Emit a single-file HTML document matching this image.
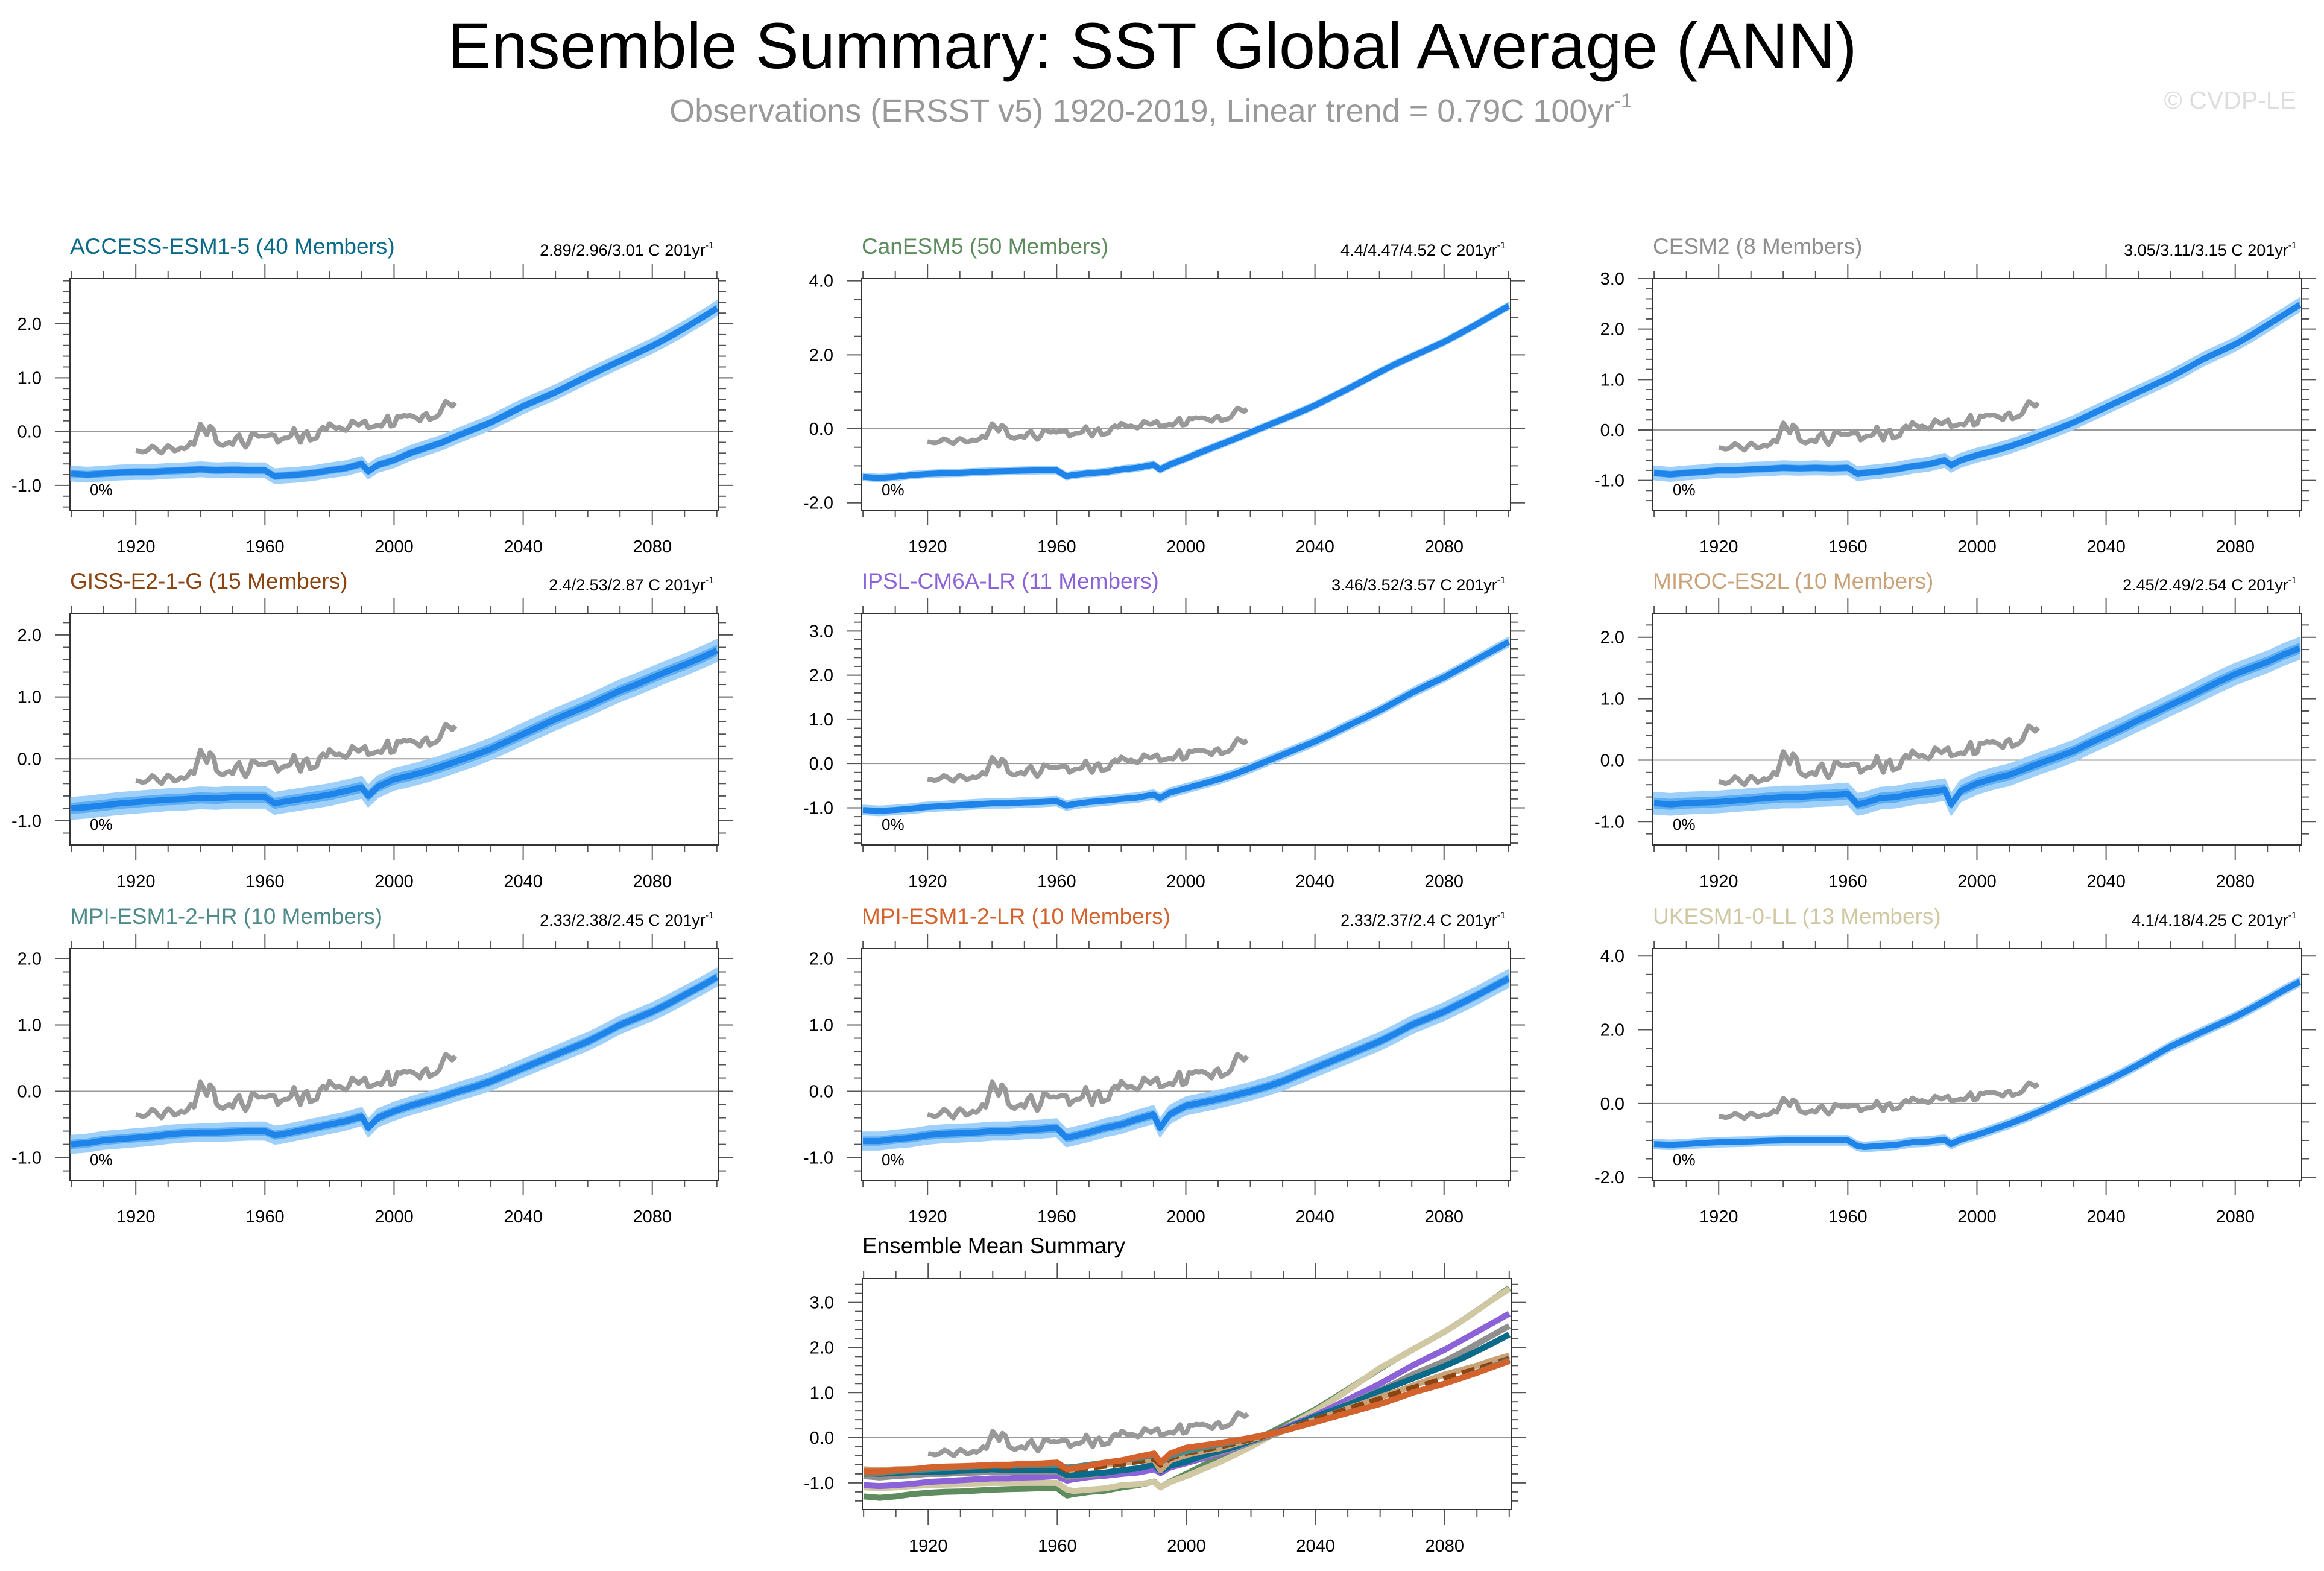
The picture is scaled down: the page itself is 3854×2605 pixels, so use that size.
<!DOCTYPE html>
<html><head><meta charset="utf-8"><title>Ensemble Summary: SST Global Average (ANN)</title>
<style>
html,body{margin:0;padding:0;background:#fff;}
svg{display:block;font-family:"Liberation Sans",Arial,sans-serif;}
</style></head>
<body>
<svg id="chart" width="3854" height="2605" viewBox="0 0 3854 2605" xmlns="http://www.w3.org/2000/svg">
<rect x="0" y="0" width="3854" height="2605" fill="#fff"/>
<text x="1911" y="113" font-size="108" text-anchor="middle" fill="#000">Ensemble Summary: SST Global Average (ANN)</text>
<text x="1908" y="202" font-size="54" text-anchor="middle" fill="#999">Observations (ERSST v5) 1920-2019, Linear trend = 0.79C 100yr<tspan font-size="32" dy="-24">-1</tspan></text>
<text x="3808" y="180" font-size="41" text-anchor="end" fill="#ddd">© CVDP-LE</text>
<g id="panels"></g>
</svg>
<script>
// ---- data ----
const modelYears=[1900,1905,1910,1915,1920,1925,1930,1935,1940,1945,1950,1955,1960,1963,1965,1970,1975,1980,1985,1990,1992,1995,2000,2005,2010,2015,2020,2025,2030,2035,2040,2045,2050,2055,2060,2065,2070,2075,2080,2085,2090,2095,2100];
const obsVals=[-0.35,-0.36,-0.38,-0.37,-0.33,-0.27,-0.3,-0.36,-0.4,-0.32,
-0.26,-0.3,-0.36,-0.34,-0.3,-0.32,-0.28,-0.2,-0.24,-0.05,
0.14,0.05,-0.06,0.1,0.04,-0.19,-0.24,-0.26,-0.22,-0.2,
-0.24,-0.12,-0.06,-0.2,-0.29,-0.2,-0.03,-0.05,-0.09,-0.08,
-0.09,-0.07,-0.06,-0.07,-0.2,-0.15,-0.12,-0.12,-0.08,0.06,
-0.08,-0.2,-0.04,0.0,-0.16,-0.14,-0.12,0.02,0.08,0.04,
0.15,0.1,0.06,0.08,0.05,0.02,0.08,0.2,0.16,0.12,
0.16,0.2,0.07,0.08,0.1,0.12,0.1,0.18,0.29,0.1,
0.12,0.28,0.27,0.3,0.29,0.3,0.28,0.25,0.2,0.3,
0.34,0.22,0.25,0.27,0.32,0.45,0.56,0.52,0.47,0.53];
const obsFirstYear=1920;
const accessVals=[-0.78,-0.8,-0.78,-0.76,-0.75,-0.75,-0.73,-0.72,-0.7,-0.72,-0.71,-0.72,-0.72,-0.83,-0.82,-0.8,-0.77,-0.72,-0.68,-0.6,-0.74,-0.62,-0.53,-0.4,-0.3,-0.2,-0.07,0.05,0.17,0.32,0.47,0.6,0.73,0.88,1.03,1.17,1.31,1.45,1.59,1.75,1.92,2.1,2.29];
const canesmVals=[-1.3,-1.33,-1.3,-1.25,-1.22,-1.2,-1.19,-1.17,-1.15,-1.14,-1.13,-1.12,-1.12,-1.28,-1.25,-1.2,-1.17,-1.1,-1.05,-0.97,-1.1,-0.97,-0.8,-0.62,-0.45,-0.28,-0.1,0.08,0.26,0.44,0.63,0.85,1.07,1.3,1.53,1.75,1.95,2.15,2.35,2.58,2.82,3.07,3.32];
const cesmVals=[-0.85,-0.88,-0.85,-0.83,-0.8,-0.8,-0.78,-0.77,-0.75,-0.76,-0.75,-0.76,-0.75,-0.87,-0.85,-0.82,-0.78,-0.72,-0.68,-0.6,-0.7,-0.6,-0.5,-0.42,-0.33,-0.22,-0.1,0.02,0.15,0.3,0.45,0.6,0.75,0.9,1.05,1.22,1.4,1.55,1.7,1.88,2.08,2.28,2.48];
const gissVals=[-0.8,-0.78,-0.75,-0.72,-0.7,-0.68,-0.66,-0.65,-0.63,-0.64,-0.62,-0.62,-0.62,-0.72,-0.7,-0.66,-0.62,-0.58,-0.52,-0.46,-0.6,-0.45,-0.33,-0.27,-0.2,-0.12,-0.03,0.06,0.16,0.28,0.4,0.52,0.64,0.75,0.86,0.98,1.1,1.2,1.31,1.42,1.52,1.63,1.75];
const ipslVals=[-1.05,-1.07,-1.05,-1.02,-0.98,-0.96,-0.94,-0.92,-0.9,-0.9,-0.88,-0.87,-0.85,-0.95,-0.92,-0.87,-0.84,-0.8,-0.77,-0.7,-0.78,-0.66,-0.56,-0.46,-0.36,-0.24,-0.1,0.05,0.2,0.35,0.5,0.67,0.85,1.02,1.2,1.4,1.6,1.78,1.95,2.15,2.35,2.55,2.75];
const mirocVals=[-0.7,-0.72,-0.7,-0.69,-0.68,-0.66,-0.64,-0.62,-0.6,-0.6,-0.58,-0.57,-0.55,-0.72,-0.7,-0.62,-0.6,-0.55,-0.52,-0.48,-0.72,-0.5,-0.38,-0.3,-0.24,-0.14,-0.04,0.05,0.15,0.28,0.4,0.52,0.65,0.77,0.9,1.02,1.15,1.28,1.4,1.5,1.6,1.72,1.82];
const mpihrVals=[-0.8,-0.78,-0.74,-0.72,-0.7,-0.68,-0.65,-0.63,-0.62,-0.62,-0.61,-0.6,-0.6,-0.66,-0.65,-0.6,-0.55,-0.5,-0.45,-0.38,-0.55,-0.4,-0.3,-0.22,-0.15,-0.08,0.0,0.07,0.15,0.25,0.35,0.45,0.55,0.65,0.75,0.87,1.0,1.1,1.2,1.32,1.45,1.58,1.72];
const mpilrVals=[-0.75,-0.75,-0.72,-0.7,-0.66,-0.64,-0.63,-0.62,-0.6,-0.6,-0.58,-0.57,-0.55,-0.7,-0.68,-0.62,-0.55,-0.5,-0.42,-0.35,-0.55,-0.35,-0.22,-0.17,-0.12,-0.06,0.0,0.07,0.15,0.25,0.35,0.45,0.55,0.65,0.75,0.87,1.0,1.1,1.2,1.32,1.44,1.57,1.7];
const ukesmVals=[-1.1,-1.12,-1.1,-1.07,-1.05,-1.04,-1.03,-1.01,-1.0,-1.0,-1.0,-1.0,-1.0,-1.15,-1.18,-1.15,-1.12,-1.05,-1.03,-0.98,-1.1,-0.98,-0.85,-0.7,-0.55,-0.38,-0.2,0.0,0.2,0.4,0.6,0.82,1.05,1.3,1.55,1.75,1.95,2.15,2.35,2.58,2.82,3.07,3.3];
const modelNames=["ACCESS-ESM1-5 (40 Members)","CanESM5 (50 Members)","CESM2 (8 Members)","GISS-E2-1-G (15 Members)","IPSL-CM6A-LR (11 Members)","MIROC-ES2L (10 Members)","MPI-ESM1-2-HR (10 Members)","MPI-ESM1-2-LR (10 Members)","UKESM1-0-LL (13 Members)"];
const trendLabels=["2.89/2.96/3.01 C 201yr","4.4/4.47/4.52 C 201yr","3.05/3.11/3.15 C 201yr","2.4/2.53/2.87 C 201yr","3.46/3.52/3.57 C 201yr","2.45/2.49/2.54 C 201yr","2.33/2.38/2.45 C 201yr","2.33/2.37/2.4 C 201yr","4.1/4.18/4.25 C 201yr"];
const spreadOuter=[0.13,0.09,0.13,0.17,0.1,0.17,0.13,0.13,0.12];
const spreadInner=[0.07,0.045,0.07,0.09,0.055,0.09,0.07,0.07,0.06];
const xTickLabels=[1920,1960,2000,2040,2080];
// ---- layout / axis config ----
const allVals=[accessVals,canesmVals,cesmVals,gissVals,ipslVals,mirocVals,mpihrVals,mpilrVals,ukesmVals];
const slugs=["access-esm1-5","canesm5","cesm2","giss-e2-1-g","ipsl-cm6a-lr","miroc-es2l","mpi-esm1-2-hr","mpi-esm1-2-lr","ukesm1-0-ll"];
const colors=["#0a6a8a","#5e8c5e","#8f8f8f","#8b4513","#8c62d8","#c9a278","#4d8a8a","#d4622c","#cfc8a2"];
const colL=[116,1429,2741], rowT=[462,1017,1573], PW=1076, PH=384;
const yMin=[-1.46,-2.2,-1.59,-1.39,-1.84,-1.38,-1.34,-1.34,-2.08];
const yMax=[2.84,4.06,3.0,2.35,3.4,2.39,2.15,2.15,4.2];
const yMajor=[1,2,1,1,1,1,1,1,2], yMinor=[0.2,0.5,0.2,0.2,0.2,0.2,0.2,0.2,0.5];
const X0=1899.6, X1=2100.6;
const NS="http://www.w3.org/2000/svg";
const root=document.getElementById('panels');
function mk(tag,attrs,parent){const e=document.createElementNS(NS,tag);for(const k in attrs)e.setAttribute(k,attrs[k]);(parent||root).appendChild(e);return e;}
function fmt(v){return (Math.abs(v)<1e-9?0:v).toFixed(1);}

function drawAxes(g,L,T,W,H,ymin,ymax,maj,minr,xf,yf,slug){
  const R=L+W,B=T+H;
  if(ymin<0&&ymax>0){const z=mk('line',{x1:L,x2:R,y1:yf(0),y2:yf(0),stroke:'#999','stroke-width':2},g);
    
    }
  for(let k=Math.ceil(ymin/minr-1e-6);k*minr<=ymax+1e-6;k++){
    const v=k*minr, y=yf(v), isMaj=Math.abs(v/maj-Math.round(v/maj))<1e-6, len=isMaj?24:12;
    mk('line',{x1:L-len,x2:L,y1:y,y2:y,stroke:'#555','stroke-width':2},g);
    mk('line',{x1:R,x2:R+len,y1:y,y2:y,stroke:'#555','stroke-width':2},g);
    if(isMaj){const t=mk('text',{x:L-47,y:y+10,'font-size':29,'text-anchor':'end',fill:'#000'},g);t.textContent=fmt(v);
      
      }
  }
  for(let yr=1900;yr<=2100;yr+=10){
    const x=xf(yr), isMaj=xTickLabels.indexOf(yr)>=0, len=isMaj?25:12;
    mk('line',{x1:x,x2:x,y1:T-len,y2:T,stroke:'#555','stroke-width':2},g);
    mk('line',{x1:x,x2:x,y1:B,y2:B+len,stroke:'#555','stroke-width':2},g);
  }
  xTickLabels.forEach(yr=>{const t=mk('text',{x:xf(yr),y:B+70,'font-size':29,'text-anchor':'middle',fill:'#000'},g);t.textContent=yr;
    
    });
  const f=mk('rect',{x:L,y:T,width:W,height:H,fill:'none',stroke:'#333','stroke-width':2},g);
  
  
}
function pts(xs,vs,xf,yf,off){return xs.map((x,i)=>xf(x).toFixed(1)+','+yf(vs[i]+off).toFixed(1));}
function band(xs,vs,s,xf,yf){return pts(xs,vs,xf,yf,s).concat(pts(xs,vs,xf,yf,-s).reverse()).join(' ');}
const obsYears=obsVals.map((v,i)=>obsFirstYear+i);

for(let i=0;i<9;i++){
  const L=colL[i%3],T=rowT[Math.floor(i/3)],W=PW,H=PH,ymin=yMin[i],ymax=yMax[i];
  const xf=yr=>L+(yr-X0)/(X1-X0)*W, yf=v=>T+(ymax-v)/(ymax-ymin)*H;
  const g=mk('g',{});
  
  
  const cp=mk('clipPath',{id:'clip'+i},g);mk('rect',{x:L,y:T,width:W,height:H},cp);
  const t=mk('text',{x:L,y:T-41,'font-size':37,fill:colors[i]},g);t.textContent=modelNames[i];
  
  
  const tr=mk('text',{x:L+W-8,y:T-38,'font-size':27,'text-anchor':'end',fill:'#000'},g);
  tr.textContent=trendLabels[i];
  const sup=mk('tspan',{'font-size':16,dy:-12},tr);sup.textContent='-1';
  
  
  drawAxes(g,L,T,W,H,ymin,ymax,yMajor[i],yMinor[i],xf,yf,slugs[i]);
  const pg=mk('g',{'clip-path':'url(#clip'+i+')'},g);
  const b1=mk('polygon',{points:band(modelYears,allVals[i],spreadOuter[i],xf,yf),fill:'#9fd0fa','stroke':'#9fd0fa','stroke-width':3,'stroke-linejoin':'round'},pg);
  
  
  const b2=mk('polygon',{points:band(modelYears,allVals[i],spreadInner[i],xf,yf),fill:'#5eaef2'},pg);
  
  
  const ob=mk('polyline',{points:pts(obsYears,obsVals,xf,yf,0).join(' '),fill:'none',stroke:'#999','stroke-width':8,'stroke-linejoin':'round'},pg);
  
  
  const ml=mk('polyline',{points:pts(modelYears,allVals[i],xf,yf,0).join(' '),fill:'none',stroke:'#1e84ea','stroke-width':10,'stroke-linejoin':'round'},pg);
  
  
  const pc=mk('text',{x:L+33,y:T+H-25,'font-size':26,fill:'#000'},g);pc.textContent='0%';
  
  
}
(function(){
  const L=1430,T=2120,W=1076,H=383,ymin=-1.59,ymax=3.53;
  const xf=yr=>L+(yr-X0)/(X1-X0)*W, yf=v=>T+(ymax-v)/(ymax-ymin)*H;
  const g=mk('g',{});
  
  
  const cp=mk('clipPath',{id:'clipE'},g);mk('rect',{x:L,y:T,width:W,height:H},cp);
  const t=mk('text',{x:L,y:T-42,'font-size':37,fill:'#000'},g);t.textContent='Ensemble Mean Summary';
  
  
  drawAxes(g,L,T,W,H,ymin,ymax,1,0.2,xf,yf,'ensemble-summary');
  const pg=mk('g',{'clip-path':'url(#clipE)'},g);
  const order=[1,8,4,2,0,5,3,6,7];
  order.forEach(i=>{
    const attrs={points:pts(modelYears,allVals[i],xf,yf,0).join(' '),fill:'none',stroke:colors[i],'stroke-width':10,'stroke-linejoin':'round'};
    if(i===3)attrs['stroke-dasharray']='22 10';
    const l=mk('polyline',attrs,pg);
    
    
  });
  const ob=mk('polyline',{points:pts(obsYears,obsVals,xf,yf,0).join(' '),fill:'none',stroke:'#999','stroke-width':8,'stroke-linejoin':'round'},pg);
  
  
})();
</script>
</body></html>
